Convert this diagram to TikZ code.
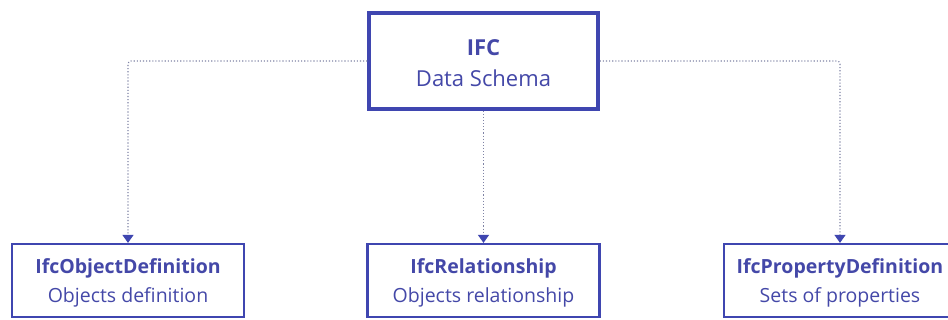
\documentclass[tikz,border=0pt]{standalone}
\usepackage{fontspec}
\setmainfont{Open Sans}
\usetikzlibrary{arrows.meta}
\definecolor{boxblue}{HTML}{3F46B0}
\definecolor{textblue}{HTML}{4448A8}
\definecolor{linkgray}{HTML}{7F83A5}
\tikzset{
  mainbox/.style={draw=boxblue, line width=3.5pt, minimum width=229pt, minimum height=96pt,
    align=center, text=textblue, font=\fontsize{22}{31}\selectfont, inner sep=0pt},
  subbox/.style={draw=boxblue, line width=2.2pt, minimum width=232pt, minimum height=73pt,
    align=center, text=textblue, font=\fontsize{19.5}{29}\selectfont, inner sep=0pt},
  link/.style={draw=linkgray, line width=1.1pt, dotted, rounded corners=3pt,
    -{Triangle[color=boxblue, width=11pt, length=8pt]}},
}
\begin{document}
\begin{tikzpicture}[x=1pt, y=-1pt]
  \clip (0,0) rectangle (948,320);
  \useasboundingbox (0,0) rectangle (948,320);
  \fill[white] (0,0) rectangle (948,320);

  \node[mainbox] (ifc) at (483.5,61) {};
  \node[text=textblue, font=\fontsize{22}{31}\selectfont, align=center] (ifctext) at (483.5,63) {\textbf{IFC}\\Data Schema};

  \node[subbox] (obj) at (128,280.5) {};
  \node[subbox] (rel) at (483.5,280.5) {};
  \node[subbox] (prop) at (840,280.5) {};
  \node[text=textblue, font=\fontsize{19.5}{29}\selectfont, align=center] (objtext) at (128,283) {\textbf{IfcObjectDefinition}\\Objects definition};
  \node[text=textblue, font=\fontsize{19.5}{29}\selectfont, align=center] (reltext) at (483.5,283) {\textbf{IfcRelationship}\\Objects relationship};
  \node[text=textblue, font=\fontsize{19.5}{29}\selectfont, align=center] (proptext) at (840,283) {\textbf{IfcPropertyDefinition}\\Sets of properties};

  \draw[link] (ifc.west) -| (obj.north);
  \draw[link] (ifc.south) -- (rel.north);
  \draw[link] (ifc.east) -| (prop.north);
\end{tikzpicture}
\end{document}
